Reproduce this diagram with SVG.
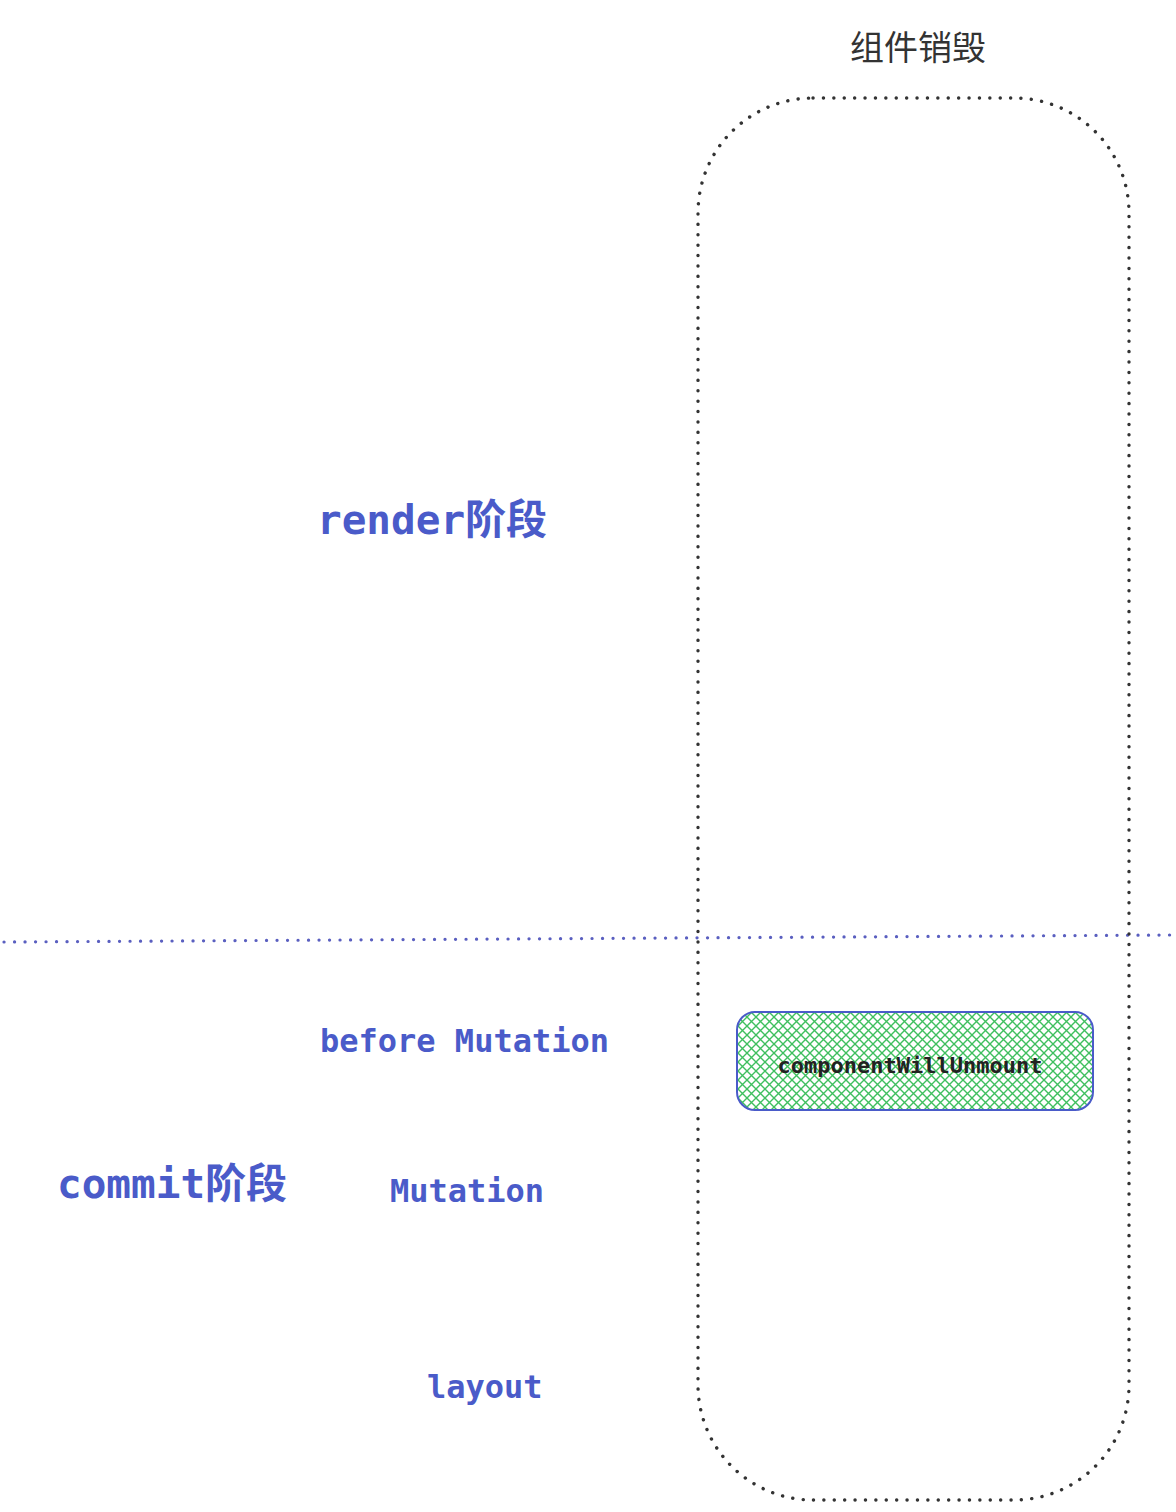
<svg xmlns="http://www.w3.org/2000/svg" width="1176" height="1512" viewBox="0 0 1176 1512">
<style>
.lbl{font-family:"DejaVu Sans Mono","Liberation Mono","Noto Sans CJK SC",monospace;font-weight:bold;fill:#4a5bc9}
.big{font-size:41px}
.mid{font-size:32px}
.title{font-family:"Noto Sans CJK SC",sans-serif;font-size:34px;fill:#333}
.code{font-family:"DejaVu Sans Mono","Liberation Mono",monospace;font-size:22px;font-weight:bold;fill:#222}
</style>
<defs>
<pattern id="hatch" width="9" height="9" patternUnits="userSpaceOnUse">
<path d="M0,0 L9,9 M9,0 L0,9" stroke="#3fbf5f" stroke-width="1.4"/>
</pattern>
</defs>
<rect width="1176" height="1512" fill="#fff"/>
<g id="title"><text class="title" x="918" y="60" text-anchor="middle">组件销毁</text></g>
<g id="connectors">
<line x1="4" y1="942" x2="1172" y2="935" stroke="#5a5fc0" stroke-width="3.2" stroke-dasharray="0.1 10.4" stroke-linecap="round"/>
</g>
<g id="lifecycle-box">
<rect x="698" y="98" width="431" height="1402" rx="115" ry="115" fill="none" stroke="#333" stroke-width="3.4" stroke-dasharray="0.1 10.3" stroke-linecap="round"/>
</g>
<g id="render"><text class="lbl big" x="317" y="534">render阶段</text></g>
<g id="before-mutation"><text class="lbl mid" x="320" y="1052">before Mutation</text></g>
<g id="commit"><text class="lbl big" x="57" y="1198">commit阶段</text></g>
<g id="mutation"><text class="lbl mid" x="390" y="1202">Mutation</text></g>
<g id="layout"><text class="lbl mid" x="427" y="1398">layout</text></g>
<g id="componentWillUnmount">
<rect x="737" y="1012" width="356" height="98" rx="18" fill="url(#hatch)" stroke="#4a5bc9" stroke-width="2"/>
<text class="code" x="910" y="1073" text-anchor="middle">componentWillUnmount</text>
</g>
</svg>
